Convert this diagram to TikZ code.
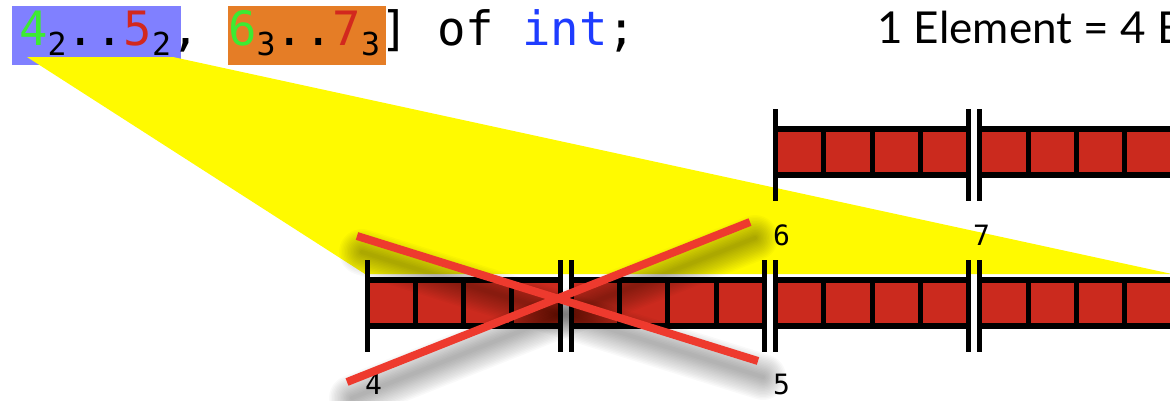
\documentclass[tikz,border=0pt]{standalone}
\usepackage{fontspec}
\usepackage{xcolor}
\newfontfamily\codefont{DejaVu Sans Mono}
\newfontfamily\notefont{Lato}
\definecolor{cellred}{RGB}{203,42,30}
\definecolor{crossred}{RGB}{238,58,46}
\definecolor{boxblue}{RGB}{128,128,255}
\definecolor{boxorange}{RGB}{229,125,38}
\definecolor{lowgreen}{RGB}{60,235,50}
\definecolor{highred}{RGB}{210,40,30}
\definecolor{kwblue}{RGB}{30,60,255}
\definecolor{fanyellow}{RGB}{255,250,0}
\newcommand{\idxsub}[1]{\raisebox{-10pt}{\fontsize{31.6}{34}\selectfont #1}}

\begin{document}
\begin{tikzpicture}[x=1pt,y=-1pt,
  rangebox/.style={anchor=north west,minimum height=59pt,inner sep=0pt,outer sep=0pt},
  idxlabel/.style={anchor=base west,inner sep=0pt,font=\codefont\fontsize{28}{30}\selectfont},
  bar/.style={draw=black,line width=5pt},
  crossline/.style={draw=crossred,line width=8pt},
  crossshade/.style={draw=black,opacity=0.024,line cap=round}]
\useasboundingbox (0,0) rectangle (1170,400);
\clip (0,0) rectangle (1170,400);
% declaration with the two index ranges
\node[rangebox,fill=boxblue,minimum width=169pt] (rowbox) at (12,6) {};
\node[rangebox,fill=boxorange,minimum width=158pt] (colbox) at (228,6) {};
\node[anchor=base west,inner sep=0pt,font=\codefont\fontsize{47.3}{50}\selectfont] (decl) at (19,45) {\textcolor{lowgreen}{4}\idxsub{2}..\textcolor{highred}{5}\idxsub{2}, \textcolor{lowgreen}{6}\idxsub{3}..\textcolor{highred}{7}\idxsub{3}] of \textcolor{kwblue}{int};};
\node[anchor=base west,inner sep=0pt,font=\notefont\fontsize{44}{48}\selectfont] (elemsize) at (877,43) {1 Element = 4 B};
% yellow fan from the first range down to the memory row
\coordinate (fanA) at (27,57);
\coordinate (fanB) at (173,57);
\coordinate (fanC) at (1172,274);
\coordinate (fanD) at (365,274);
\fill[fanyellow] (fanA) -- (fanB) -- (fanC) -- (fanD) -- cycle;
% blocks of four elements
\foreach \s/\t in {367/277,571.3/277,775.6/277,979.9/277,775.6/126,979.9/126}{
  \fill[black] (\s,\t) rectangle ++(193,52);
  \foreach \k in {0,...,3}
    \fill[cellred] ({\s+2.5+\k*48.25},{\t+6}) rectangle ++(43.25,40);
  \draw[bar] (\s,{\t-17}) -- (\s,{\t+75});
  \draw[bar] ({\s+193},{\t-17}) -- ({\s+193},{\t+75});
}
\node[idxlabel] (idx4) at (365,394) {4};
\node[idxlabel] (idx5) at (773,394) {5};
\node[idxlabel] (idx6) at (773,245) {6};
\node[idxlabel] (idx7) at (973,245) {7};
% crossed out block pair
\coordinate (xa1) at (357,236);
\coordinate (xa2) at (758,361);
\coordinate (xb1) at (347,382);
\coordinate (xb2) at (750,222);
\foreach \w in {46,43,...,4}{
  \draw[crossshade,line width=\w pt] ([shift={(5,16)}]xa1) -- ([shift={(5,16)}]xa2);
  \draw[crossshade,line width=\w pt] ([shift={(5,16)}]xb1) -- ([shift={(5,16)}]xb2);
}
\draw[crossline] (xa1) -- (xa2);
\draw[crossline] (xb1) -- (xb2);
\end{tikzpicture}
\end{document}
